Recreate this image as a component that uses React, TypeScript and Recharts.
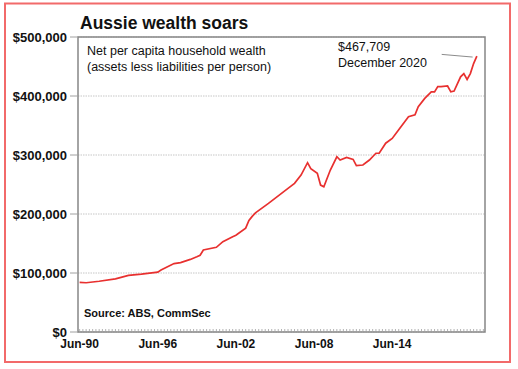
import { LineChart, Line, XAxis, YAxis, CartesianGrid, ReferenceArea, ReferenceLine } from 'recharts';

// quarterly readings, Jun-90 .. Dec-20
const periods = [
  'Jun-90', 'Dec-90', 'Dec-91', 'Mar-93', 'Mar-94', 'Mar-95', 'Jun-96', 'Sep-96', 'Mar-97', 'Sep-97',
  'Mar-98', 'Dec-98', 'Jun-99', 'Sep-99', 'Dec-99', 'Dec-00', 'Jun-01', 'Mar-02', 'Jun-02', 'Mar-03',
  'Jun-03', 'Sep-03', 'Dec-03', 'Dec-04', 'Jun-05', 'Jun-06', 'Dec-06', 'Jun-07', 'Dec-07', 'Mar-08',
  'Sep-08', 'Dec-08', 'Mar-09', 'Sep-09', 'Mar-10', 'Jun-10', 'Dec-10', 'Jun-11', 'Sep-11', 'Mar-12',
  'Sep-12', 'Mar-13', 'Jun-13', 'Dec-13', 'Jun-14', 'Dec-14', 'Sep-15', 'Mar-16', 'Jun-16', 'Dec-16',
  'Jun-17', 'Sep-17', 'Dec-17', 'Mar-18', 'Sep-18', 'Dec-18', 'Mar-19', 'Sep-19', 'Dec-19', 'Mar-20',
  'Jun-20', 'Sep-20', 'Dec-20',
];

const wealth = [
  84000, 83500, 86000, 90000, 96000, 98000, 101500, 105000, 110500, 116000,
  117500, 123000, 127500, 130000, 139000, 143500, 153000, 161500, 164000, 176000,
  189000, 196000, 202000, 218000, 226500, 243500, 252000, 266000, 287000, 277000,
  269000, 249000, 246000, 274500, 297000, 291500, 296000, 292500, 282000, 283000,
  291500, 303000, 303000, 320000, 328000, 343000, 365000, 368000, 382000, 396000,
  407000, 407000, 416000, 416000, 417000, 407000, 408500, 432500, 438000, 428000,
  438000, 455000, 467709,
];

const tickLabels = ['Jun-90', 'Jun-96', 'Jun-02', 'Jun-08', 'Jun-14'];
const yTicks = [0, 100000, 200000, 300000, 400000, 500000];

const MONTHS: Record<string, number> = { Mar: 2, Jun: 5, Sep: 8, Dec: 11 };

// quarters since Jun-90
const quarterOf = (p: string) => {
  const [m, yy] = p.split('-');
  const n = parseInt(yy, 10);
  const year = n >= 50 ? 1900 + n : 2000 + n;
  return ((year - 1990) * 12 + MONTHS[m] - 5) / 3;
};

const data = periods.map((p, i) => ({ q: quarterOf(p), v: wealth[i] }));
const lastQ = 124;
const quarterTicks = Array.from({ length: lastQ + 1 }, (_, i) => i);

const FONT = '"Liberation Sans", Arial, sans-serif';

const QuarterTick = (props: any) => {
  const { x, y, payload } = props;
  const label = tickLabels.find((t) => quarterOf(t) === payload.value);
  return (
    <g>
      <line x1={x} x2={x} y1={y} y2={y - 3} stroke="#a0a0a0" strokeWidth={0.8} />
      {label && (
        <text x={x} y={y + 15.5} textAnchor="middle" fontSize={12} fontWeight="bold" fill="#111">
          {label}
        </text>
      )}
    </g>
  );
};

export default function App() {
  return (
    <div style={{ position: 'absolute', left: 0, top: 0, width: 518, height: 369, background: '#fff', fontFamily: FONT }}>
      <LineChart width={518} height={369} data={data} margin={{ top: 37, right: 33, bottom: 0, left: 0 }}>
        <CartesianGrid vertical={false} stroke="#c6c6c6" strokeDasharray="1.5 1" />
        <XAxis
          type="number"
          dataKey="q"
          domain={[-0.5, lastQ + 0.5]}
          ticks={quarterTicks}
          interval={0}
          height={37}
          axisLine={false}
          tickLine={false}
          tickSize={0}
          tickMargin={0}
          tick={<QuarterTick />}
        />
        <YAxis
          domain={[0, 500000]}
          ticks={yTicks}
          width={78}
          axisLine={false}
          tickLine={{ stroke: '#a0a0a0' }}
          tickSize={8}
          tickMargin={3}
          tick={{ fontSize: 13, fontWeight: 'bold', fill: '#111' }}
          tickFormatter={(v: number) => `$${v.toLocaleString('en-US')}`}
        />
        <ReferenceArea x1={-0.5} x2={lastQ + 0.5} y1={0} y2={500000} fill="none" stroke="#868686" strokeWidth={1.5} />
        <ReferenceLine
          segment={[{ x: 111.2, y: 470500 }, { x: 120.7, y: 466000 }]}
          stroke="#8c8c8c"
          strokeWidth={1}
        />
        <Line type="linear" dataKey="v" stroke="#e8302f" strokeWidth={1.7} dot={false} isAnimationActive={false} />
      </LineChart>
      <svg width={518} height={369} style={{ position: 'absolute', left: 0, top: 0, pointerEvents: 'none' }}>
        <rect x={5} y={3.5} width={505} height={358.5} fill="none" stroke="#f26a6a" strokeWidth={2} />
        <text x={80} y={29} fontSize={17.5} fontWeight="bold" fill="#111">Aussie wealth soars</text>
        <text x={87} y={55} fontSize={12.5} fill="#111">Net per capita household wealth</text>
        <text x={87} y={70.5} fontSize={12.5} fill="#111">(assets less liabilities per person)</text>
        <text x={338} y={51} fontSize={12.5} fill="#111">$467,709</text>
        <text x={338} y={66.5} fontSize={12.5} fill="#111">December 2020</text>
        <text x={84} y={317} fontSize={11} fontWeight="bold" fill="#111">Source: ABS, CommSec</text>
      </svg>
    </div>
  );
}
